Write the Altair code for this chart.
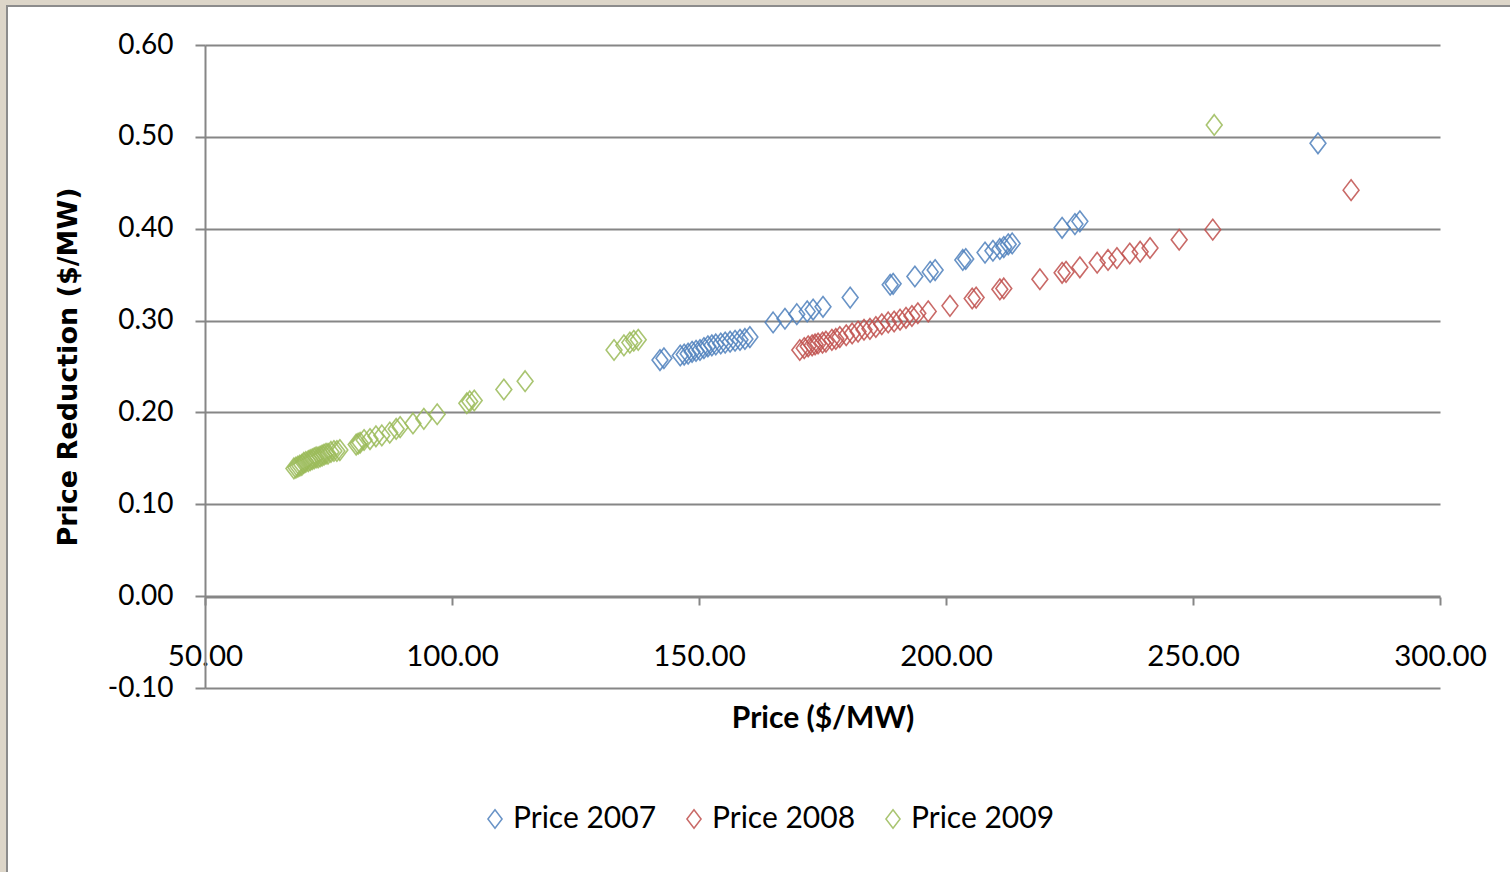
import altair as alt
import pandas as pd

# Price ($/MW) and price reduction ($/MW) per year
price_2007 = [142.1, 142.9, 146.2, 147.0, 147.8, 148.6, 149.4, 150.2, 151.0, 151.8,
              152.6, 153.4, 154.4, 155.3, 156.3, 157.3, 158.3, 159.3, 160.3, 165.0,
              167.4, 169.8, 171.9, 173.1, 175.1, 180.6, 188.7, 189.3, 193.7, 196.8,
              197.8, 203.4, 204.0, 207.9, 209.5, 210.9, 211.7, 212.6, 213.4, 223.5,
              226.1, 227.1, 275.3]
reduction_2007 = [0.257, 0.259, 0.262, 0.263, 0.264, 0.266, 0.267, 0.268, 0.270, 0.272,
                  0.273, 0.274, 0.275, 0.276, 0.277, 0.278, 0.279, 0.280, 0.282, 0.298,
                  0.302, 0.307, 0.310, 0.312, 0.315, 0.325, 0.339, 0.340, 0.348, 0.353,
                  0.355, 0.366, 0.367, 0.374, 0.376, 0.378, 0.380, 0.383, 0.384, 0.401,
                  0.405, 0.408, 0.493]

price_2008 = [170.4, 171.3, 172.1, 172.9, 173.5, 174.1, 175.0, 175.7, 176.9, 177.7,
              178.5, 179.8, 181.0, 182.2, 183.4, 184.6, 185.8, 187.0, 188.3, 189.5,
              190.7, 191.9, 193.1, 194.3, 196.4, 200.8, 205.3, 206.1, 210.9, 211.7,
              219.0, 223.5, 224.3, 227.1, 230.6, 232.8, 234.6, 237.2, 239.3, 241.3,
              247.2, 254.0, 282.0]
reduction_2008 = [0.268, 0.270, 0.272, 0.273, 0.274, 0.275, 0.276, 0.277, 0.279, 0.280,
                  0.282, 0.284, 0.286, 0.288, 0.290, 0.291, 0.293, 0.296, 0.298, 0.299,
                  0.301, 0.303, 0.305, 0.308, 0.310, 0.316, 0.324, 0.325, 0.334, 0.335,
                  0.345, 0.352, 0.353, 0.358, 0.363, 0.366, 0.368, 0.373, 0.375, 0.379,
                  0.388, 0.399, 0.442]

price_2009 = [68.0, 68.4, 68.8, 69.2, 69.6, 70.0, 70.4, 70.9, 71.3, 71.7,
              72.1, 72.5, 72.9, 73.3, 73.7, 74.1, 74.5, 74.9, 75.5, 76.1,
              76.7, 77.3, 80.6, 81.0, 81.4, 82.2, 83.4, 84.6, 85.8, 87.4,
              88.7, 89.5, 92.1, 94.3, 97.0, 103.0, 103.6, 104.5, 110.5, 114.8,
              132.8, 134.8, 136.0, 136.8, 137.7, 254.3]
reduction_2009 = [0.139, 0.140, 0.141, 0.142, 0.143, 0.145, 0.146, 0.147, 0.148, 0.149,
                  0.150, 0.151, 0.151, 0.152, 0.153, 0.154, 0.155, 0.155, 0.157, 0.158,
                  0.158, 0.159, 0.165, 0.166, 0.167, 0.170, 0.171, 0.174, 0.175, 0.178,
                  0.182, 0.184, 0.188, 0.193, 0.198, 0.210, 0.212, 0.213, 0.225, 0.234,
                  0.268, 0.273, 0.276, 0.278, 0.279, 0.513]

series_names = ["Price 2007", "Price 2008", "Price 2009"]
series_colors = ["#4F81BD", "#C0504D", "#9BBB59"]
x_ticks = [50, 100, 150, 200, 250, 300]
y_ticks = [-0.1, 0.0, 0.1, 0.2, 0.3, 0.4, 0.5, 0.6]

rows = []
for name, xs, ys in zip(series_names,
                        [price_2007, price_2008, price_2009],
                        [reduction_2007, reduction_2008, reduction_2009]):
    rows += [{"series": name, "price": x, "reduction": y} for x, y in zip(xs, ys)]
df = pd.DataFrame(rows)

DIAMOND = "M0,-1.3L1,0L0,1.3L-1,0Z"
FONT = "Lato"
GRID = "#868686"
FRAME = "#DDD6C9"
EDGE = "#8C8C8C"

one = pd.DataFrame({"k": [0]})

# beige frame strips along the top and left edges of the page
frame_top = alt.Chart(one).mark_rect(fill=FRAME).encode(
    x=alt.value(-205), x2=alt.value(1310), y=alt.value(-45), y2=alt.value(-40))
frame_left = alt.Chart(one).mark_rect(fill=FRAME).encode(
    x=alt.value(-205), x2=alt.value(-198), y=alt.value(-45), y2=alt.value(830))
edge_top = alt.Chart(one).mark_rule(color=EDGE, strokeWidth=2).encode(
    x=alt.value(-198), x2=alt.value(1310), y=alt.value(-39))
edge_left = alt.Chart(one).mark_rule(color=EDGE, strokeWidth=2).encode(
    x=alt.value(-198), y=alt.value(-40), y2=alt.value(830))

points = alt.Chart(df).mark_point(
    shape=DIAMOND, filled=False, size=250, strokeWidth=1.6, opacity=0.85
).encode(
    x=alt.X("price:Q",
            scale=alt.Scale(domain=[50, 300], nice=False, zero=False),
            # the price axis crosses at a reduction of zero
            axis=alt.Axis(values=x_ticks, format=".2f", grid=False,
                          offset=-91, domainColor=GRID, domainWidth=2,
                          tickColor=GRID, tickWidth=2, tickSize=8,
                          labelPadding=37, labelFont=FONT, labelFontSize=29.5,
                          labelColor="black", labelFlush=False,
                          title="Price ($/MW)", titleFont=FONT, titleFontSize=30,
                          titleFontWeight="bold", titleColor="black",
                          titleY=121, titleBaseline="middle")),
    y=alt.Y("reduction:Q",
            scale=alt.Scale(domain=[-0.1, 0.6], nice=False, zero=False),
            axis=alt.Axis(values=y_ticks, grid=True, gridColor=GRID, gridWidth=2,
                          gridOpacity=1,
                          labelExpr="datum.value < 0 ? '-' + format(-datum.value, '.2f') : format(datum.value, '.2f')",
                          domainColor=GRID, domainWidth=2,
                          tickColor=GRID, tickWidth=2, tickSize=10,
                          labelPadding=22, labelFont=FONT, labelFontSize=28,
                          labelColor="black", labelFlush=False,
                          title="Price Reduction ($/MW)", titleFont="DejaVu Sans",
                          titleFontSize=27, titleFontWeight="bold", titleColor="black",
                          titleX=-137, titleBaseline="middle")),
    color=alt.Color("series:N",
                    scale=alt.Scale(domain=series_names, range=series_colors),
                    legend=alt.Legend(title=None, orient="none", direction="horizontal",
                                      legendX=275, legendY=759,
                                      symbolType=DIAMOND, symbolSize=200,
                                      symbolStrokeWidth=1.5, symbolFillColor="white",
                                      labelFont=FONT, labelFontSize=30,
                                      labelColor="black", labelOffset=3,
                                      columnPadding=22, labelLimit=400)),
)

chart = alt.layer(frame_top, frame_left, edge_top, edge_left, points).properties(
    width=1235, height=643,
    autosize=alt.AutoSizeParams(type="none"),
    padding={"left": 205, "top": 45, "right": 70, "bottom": 184},
    background="white",
).configure_view(stroke=None)

chart.save("out.html", embed_options={"renderer": "svg", "actions": False})
